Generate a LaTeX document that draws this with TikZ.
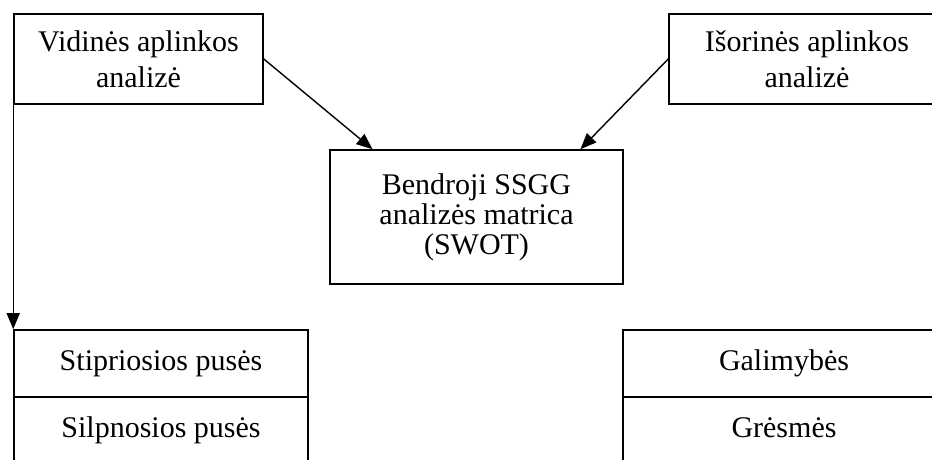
\documentclass[tikz,border=0pt]{standalone}
\usepackage{fontspec}
\setmainfont{Liberation Serif}
\usetikzlibrary{arrows.meta,calc}

\tikzset{
  box/.style={draw, line width=1.6pt, inner sep=0pt, align=center,
              font=\fontsize{30}{36}\selectfont},
  cell/.style={draw, line width=1.6pt, inner sep=0pt,
               text height=21pt, text depth=7pt,
               font=\fontsize{30}{36}\selectfont},
  link/.style={line width=1.4pt, -{Triangle[length=16pt,width=13pt]}}
}

\begin{document}
\begin{tikzpicture}[x=1pt,y=-1pt]
  \clip (0,0) rectangle (932,460);

  % source analyses
  \node[box, minimum width=249pt, minimum height=90pt] (vid) at (138.5,59)
    {Vidinės aplinkos\\analizė};
  \node[box, minimum width=276pt, minimum height=90pt] (isor) at (807,59)
    {Išorinės aplinkos\\analizė};

  % combined matrix
  \node[box, font=\fontsize{30}{30}\selectfont,
        minimum width=293pt, minimum height=134pt] (swot) at (476.5,217)
    {Bendroji SSGG\\analizės matrica\\(SWOT)};

  % internal factors
  \node[cell, minimum width=294pt, minimum height=67pt] (stip) at (161,363.5)
    {Stipriosios pusės};
  \node[cell, minimum width=294pt, minimum height=67pt] (silp) at (161,430.5)
    {Silpnosios pusės};

  % external factors
  \node[cell, minimum width=322pt, minimum height=67pt] (gal) at (784,363.5)
    {Galimybės};
  \node[cell, minimum width=322pt, minimum height=67pt] (gres) at (784,430.5)
    {Grėsmės};

  % connectors
  \draw[link] (vid.east) -- ($(swot.north west)!0.147!(swot.north east)$);
  \draw[link] (isor.west) -- ($(swot.north west)!0.853!(swot.north east)$);
  \draw[link] (vid.south west) -- (stip.north west);
\end{tikzpicture}
\end{document}
